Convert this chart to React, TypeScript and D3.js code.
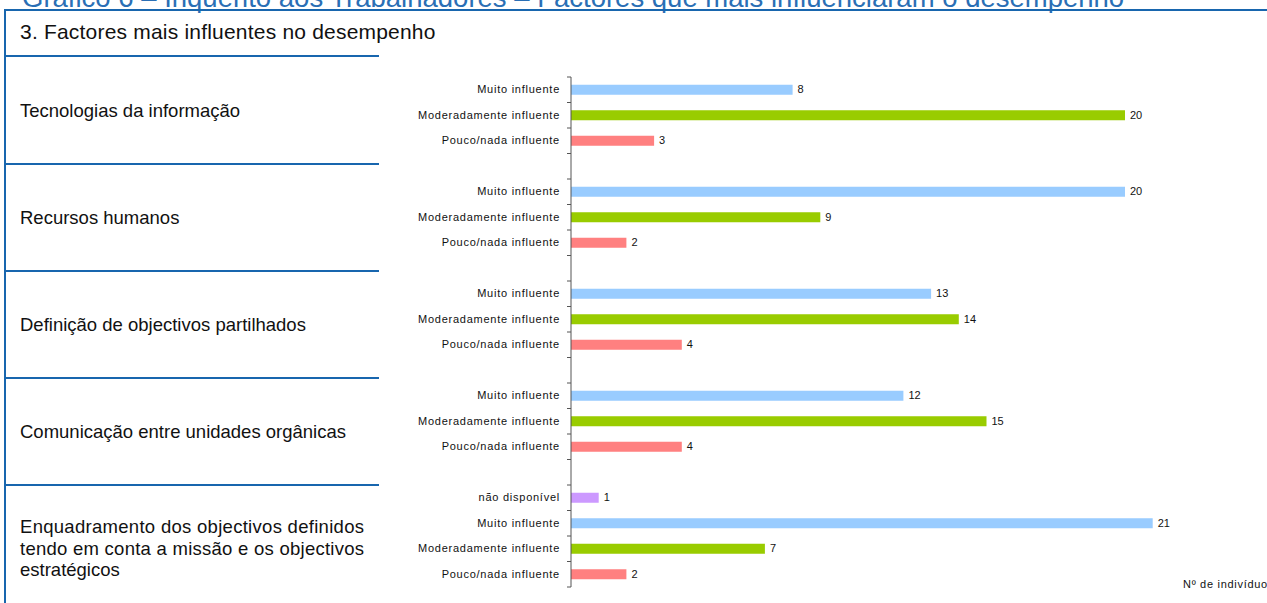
import React from "react";
import * as d3 from "d3";

const title = "Gráfico 6 – Inquérito aos Trabalhadores – Factores que mais influenciaram o desempenho";
const header = "3. Factores mais influentes no desempenho";

const groupLabels: string[][] = [
  ["Tecnologias da informação"],
  ["Recursos humanos"],
  ["Definição de objectivos partilhados"],
  ["Comunicação entre unidades orgânicas"],
  ["Enquadramento dos objectivos definidos", "tendo em conta a missão e os objectivos", "estratégicos"],
];

// Categories along the axis, top to bottom ("" = empty gap row)
const categories = [
  "Muito influente", "Moderadamente influente", "Pouco/nada influente", "",
  "Muito influente", "Moderadamente influente", "Pouco/nada influente", "",
  "Muito influente", "Moderadamente influente", "Pouco/nada influente", "",
  "Muito influente", "Moderadamente influente", "Pouco/nada influente", "",
  "não disponível", "Muito influente", "Moderadamente influente", "Pouco/nada influente",
];
const values: (number | null)[] = [
  8, 20, 3, null,
  20, 9, 2, null,
  13, 14, 4, null,
  12, 15, 4, null,
  1, 21, 7, 2,
];
const colorByCategory: Record<string, string> = {
  "Muito influente": "#99CCFF",
  "Moderadamente influente": "#99CC00",
  "Pouco/nada influente": "#FF8080",
  "não disponível": "#CC99FF",
};
const unitLabel = "Nº de indivíduos";

const W = 1267;
const H = 603;
const blue = "#1866AE";
const font = "'Liberation Sans', Arial, sans-serif";

export default function App() {
  const x = d3.scaleLinear().domain([0, 21]).range([571, 1152.7]);
  const idx = d3.range(categories.length);
  const y = d3.scaleBand<number>().domain(idx).range([77, 587]).paddingInner(0);
  const bw = y.bandwidth();
  const barH = 10;
  const sepY = [56, 164, 271, 378, 485];
  const labelBaselines: number[][] = [[117], [224], [331], [438], [533, 555, 576]];

  return (
    <svg width={W} height={H} style={{ position: "absolute", left: 0, top: 0, background: "#fff" }} fontFamily={font}>
      <text x={22} y={7} fontSize={27.5} fill="#2A6FB5">{title}</text>
      <line x1={4} x2={W} y1={10} y2={10} stroke={blue} strokeWidth={2} />
      <line x1={5} x2={5} y1={9} y2={H} stroke={blue} strokeWidth={2} />
      <text x={20} y={39} fontSize={21} letterSpacing={0.2} fill="#111">{header}</text>
      {sepY.map((sy, i) => (
        <line key={i} x1={4} x2={379} y1={sy} y2={sy} stroke={blue} strokeWidth={2} />
      ))}
      {groupLabels.map((lines, gi) =>
        lines.map((l, li) => (
          <text key={gi + "-" + li} x={20} y={labelBaselines[gi][li]} fontSize={18.5} fill="#111"
            textLength={lines.length > 1 && li < lines.length - 1 ? 344 : undefined}
            lengthAdjust="spacing">
            {l}
          </text>
        ))
      )}
      {/* bars */}
      {idx.map((i) =>
        values[i] == null ? null : (
          <rect key={"b" + i} x={x(0)} y={(y(i) as number) + bw / 2 - barH / 2}
            width={x(values[i] as number) - x(0)} height={barH}
            fill={colorByCategory[categories[i]]} />
        )
      )}
      {/* axis */}
      <line x1={571} x2={571} y1={77} y2={587} stroke="#555" strokeWidth={1} />
      {d3.range(categories.length + 1).map((k) => {
        const ty = 77 + k * bw;
        return <line key={"t" + k} x1={567} x2={571} y1={ty} y2={ty} stroke="#555" strokeWidth={1} />;
      })}
      {idx.map((i) =>
        categories[i] ? (
          <text key={"c" + i} x={560} y={(y(i) as number) + bw / 2 + 3.5} fontSize={11} letterSpacing={0.75}
            textAnchor="end" fill="#111">{categories[i]}</text>
        ) : null
      )}
      {idx.map((i) =>
        values[i] == null ? null : (
          <text key={"v" + i} x={x(values[i] as number) + 5} y={(y(i) as number) + bw / 2 + 3.5}
            fontSize={11} fill="#111">{values[i]}</text>
        )
      )}
      <text x={1183} y={588} fontSize={11} letterSpacing={0.7} fill="#111">{unitLabel}</text>
    </svg>
  );
}
